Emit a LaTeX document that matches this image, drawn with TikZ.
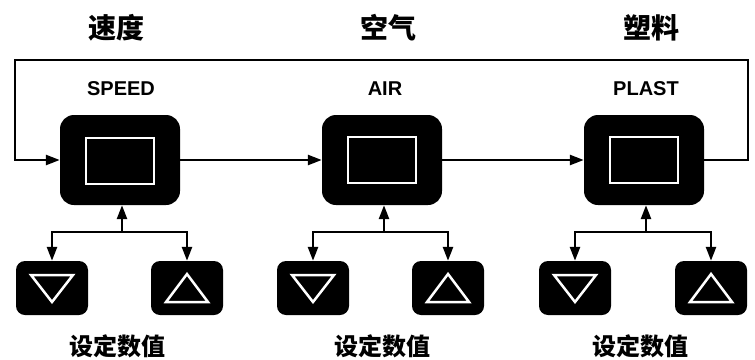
\documentclass[tikz,border=0pt]{standalone}
\usepackage{fontspec}
\setmainfont{Liberation Sans}
\newfontfamily\cjk{Noto Sans CJK SC}
\usetikzlibrary{arrows.meta,calc}
\begin{document}
\begin{tikzpicture}[x=1pt,y=-1pt,
  panel/.style={fill=black, rounded corners=14pt, minimum width=120pt, minimum height=90pt, inner sep=0pt},
  screen/.style={draw=white, line width=2.5pt, minimum width=68pt, minimum height=46pt, inner sep=0pt},
  btn/.style={fill=black, rounded corners=9pt, minimum width=72pt, minimum height=54pt, inner sep=0pt},
  tri/.style={draw=white, line width=2.5pt, line join=miter},
  conn/.style={line width=2.6pt, -{Triangle[length=14pt,width=10pt]}},
  title/.style={font=\cjk\bfseries\fontsize{28}{30}\selectfont},
  lbl/.style={font=\bfseries\fontsize{20}{22}\selectfont},
  sub/.style={font=\cjk\bfseries\fontsize{24}{26}\selectfont}]
\useasboundingbox (0,0) rectangle (755,359);
\fill[white] (0,0) rectangle (755,359);
% titles
\node[title] (t1) at (116,28) {速度};
\node[title] (t2) at (388,28) {空气};
\node[title] (t3) at (651,28) {塑料};
% labels
\node[lbl] (l1) at (121,89) {SPEED};
\node[lbl] (l2) at (385,89) {AIR};
\node[lbl] (l3) at (646,89) {PLAST};
% panels
\node[panel] (sp) at (120,160) {};
\node[panel] (ai) at (382,160) {};
\node[panel] (pl) at (644,160) {};
\node[screen] (s1) at (120,161) {};
\node[screen] (s2) at (382,160) {};
\node[screen] (s3) at (644,160) {};
% buttons
\node[btn] (d1) at (52,288) {};
\node[btn] (u1) at (187,288) {};
\node[btn] (d2) at (313,288) {};
\node[btn] (u2) at (448,288) {};
\node[btn] (d3) at (575,288) {};
\node[btn] (u3) at (711,288) {};
\foreach \b in {d1,d2,d3}{
  \draw[tri] ($(\b)+(-21,-13)$) -- ($(\b)+(21,-13)$) -- ($(\b)+(0,14)$) -- cycle;
}
\foreach \b in {u1,u2,u3}{
  \draw[tri] ($(\b)+(-21,14)$) -- ($(\b)+(21,14)$) -- ($(\b)+(0,-14)$) -- cycle;
}
% sub labels
\node[sub] (v1) at (117,346) {设定数值};
\node[sub] (v2) at (382,346) {设定数值};
\node[sub] (v3) at (640,346) {设定数值};
% main connectors
\coordinate (tr) at (748,60);
\coordinate (tl) at (15,60);
\draw[conn] (sp.east) -- (ai.west);
\draw[conn] (ai.east) -- (pl.west);
\draw[conn] (pl.east) -| (tr) -- (tl) |- (sp.west);
% junctions
\coordinate (j1) at (122,232);
\coordinate (j2) at (384,232);
\coordinate (j3) at (646,232);
\draw[conn] (j1) -- (j1 |- sp.south);
\draw[conn] (j2) -- (j2 |- ai.south);
\draw[conn] (j3) -- (j3 |- pl.south);
\draw[conn] (j1) -| (d1);
\draw[conn] (j1) -| (u1);
\draw[conn] (j2) -| (d2);
\draw[conn] (j2) -| (u2);
\draw[conn] (j3) -| (d3);
\draw[conn] (j3) -| (u3);
\end{tikzpicture}
\end{document}
